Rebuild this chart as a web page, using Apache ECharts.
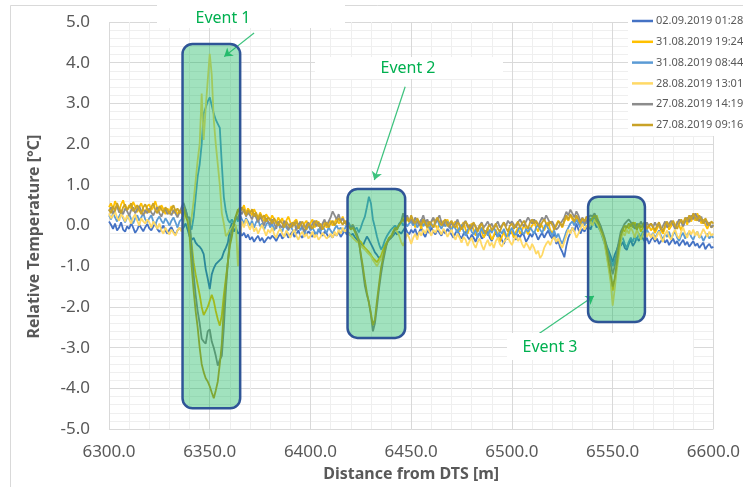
<!DOCTYPE html>
<html><head><meta charset="utf-8">
<script src="https://cdn.jsdelivr.net/npm/echarts@6/dist/echarts.min.js"></script>
<style>html,body{margin:0;padding:0;background:#fff}#c{width:743px;height:487px}</style>
</head><body><div id="c"></div>
<script>
// ---------- data ----------
const seriesNames = ['02.09.2019 01:28','31.08.2019 19:24','31.08.2019 08:44','28.08.2019 13:01','27.08.2019 14:19','27.08.2019 09:16'];
const seriesColors = ['#4472C4','#FFC000','#5B9BD5','#FFD966','#8C8C8C','#C9A227'];
// distance grid: 6300 .. 6600 m, 1 m sampling
const distStart = 6300, distStep = 1, distCount = 301;

const t0209_0128 = [
 0.10,0.02,-0.08,0.05,-0.12,-0.05,0.08,-0.10,-0.15,-0.02,
 -0.08,0.06,-0.05,-0.18,-0.10,0.02,-0.06,-0.14,-0.04,0.04,
 -0.07,-0.12,-0.02,0.05,-0.09,-0.16,-0.08,0.00,-0.12,-0.20,
 -0.10,-0.04,-0.15,-0.22,-0.12,-0.06,-0.10,-0.05,0.05,-0.10,
 -0.27,-0.35,-0.30,-0.42,-0.48,-0.52,-0.59,-0.70,-1.07,-1.30,
 -1.56,-1.20,-1.05,-0.95,-0.90,-0.85,-0.80,-0.65,-0.55,-0.42,
 -0.10,0.07,-0.15,-0.05,-0.20,-0.15,-0.25,-0.18,-0.30,-0.22,
 -0.35,-0.28,-0.40,-0.32,-0.25,-0.38,-0.30,-0.42,-0.35,-0.28,
 -0.33,-0.25,-0.30,-0.38,-0.28,-0.20,-0.32,-0.26,-0.18,-0.30,
 -0.22,-0.15,-0.28,-0.20,-0.12,-0.25,-0.30,-0.18,-0.22,-0.14,
 -0.20,-0.28,-0.16,-0.24,-0.10,-0.18,-0.25,-0.15,-0.20,-0.28,
 -0.22,-0.30,-0.18,-0.25,-0.15,-0.28,-0.20,-0.12,-0.22,-0.18,
 -0.25,-0.20,-0.28,-0.34,-0.40,-0.45,-0.50,-0.38,-0.27,-0.35,
 -0.45,-0.55,-0.66,-0.72,-0.80,-0.76,-0.72,-0.55,-0.42,-0.34,
 -0.30,-0.25,-0.17,-0.22,-0.15,-0.20,-0.12,-0.05,-0.15,-0.22,
 -0.10,-0.18,-0.08,-0.25,-0.15,-0.05,-0.20,-0.28,-0.12,-0.18,
 -0.05,-0.15,-0.22,-0.10,-0.18,-0.25,-0.12,-0.20,-0.08,-0.15,
 -0.22,-0.30,-0.18,-0.10,-0.25,-0.32,-0.20,-0.15,-0.28,-0.35,
 -0.22,-0.30,-0.40,-0.25,-0.18,-0.32,-0.28,-0.20,-0.15,-0.30,
 -0.38,-0.25,-0.18,-0.30,-0.22,-0.35,-0.45,-0.30,-0.25,-0.20,
 -0.15,-0.28,-0.35,-0.22,-0.30,-0.18,-0.25,-0.40,-0.32,-0.20,
 -0.28,-0.15,-0.22,-0.35,-0.25,-0.18,-0.30,-0.20,-0.12,-0.25,
 -0.32,-0.20,-0.45,-0.38,-0.55,-0.65,-0.78,-0.50,-0.30,-0.18,
 -0.05,-0.15,0.05,-0.10,-0.20,-0.08,-0.15,-0.05,0.00,-0.10,
 0.05,0.10,-0.05,0.02,-0.10,-0.25,-0.35,-0.50,-0.62,-0.75,
 -0.90,-0.72,-0.60,-0.45,-0.50,-0.40,-0.55,-0.60,-0.45,-0.35,
 -0.50,-0.42,-0.30,-0.38,-0.25,-0.32,-0.40,-0.30,-0.45,-0.35,
 -0.28,-0.40,-0.32,-0.45,-0.38,-0.30,-0.42,-0.35,-0.48,-0.40,
 -0.32,-0.45,-0.38,-0.50,-0.42,-0.35,-0.48,-0.40,-0.52,-0.45,
 -0.38,-0.50,-0.44,-0.55,-0.48,-0.42,-0.58,-0.50,-0.45,-0.55,
 -0.52];

const t3108_1924 = [
 0.45,0.55,0.40,0.60,0.48,0.35,0.52,0.62,0.45,0.38,
 0.50,0.42,0.58,0.47,0.33,0.45,0.55,0.40,0.30,0.48,
 0.52,0.38,0.45,0.60,0.42,0.35,0.50,0.40,0.28,0.42,
 0.35,0.48,0.30,0.40,0.25,0.38,0.30,0.22,0.35,0.15,
 -0.05,-0.45,-0.90,-1.20,-1.45,-1.70,-2.00,-2.20,-2.10,-2.00,
 -1.85,-1.70,-1.85,-2.10,-2.30,-2.46,-2.20,-1.70,-1.30,-0.90,
 -0.40,-0.10,0.07,0.20,0.35,0.45,0.38,0.50,0.30,0.42,
 0.35,0.25,0.40,0.30,0.18,0.32,0.22,0.10,0.28,0.20,
 0.12,0.25,0.15,0.05,0.20,0.10,0.18,0.02,0.12,0.22,
 0.08,-0.05,0.10,0.15,0.00,0.08,-0.08,0.05,0.12,-0.02,
 0.06,0.15,-0.05,0.02,0.10,-0.10,0.00,0.08,-0.05,0.05,
 0.12,0.00,0.08,0.18,0.05,0.10,0.22,0.08,0.00,0.05,
 -0.05,0.02,-0.10,-0.25,-0.35,-0.40,-0.48,-0.55,-0.60,-0.65,
 -0.72,-0.80,-0.85,-0.90,-0.82,-0.75,-0.60,-0.48,-0.40,-0.30,
 -0.25,-0.18,-0.10,-0.05,0.02,0.10,0.18,0.25,0.15,0.08,
 0.20,0.10,-0.05,0.12,0.05,-0.08,0.15,0.00,0.10,-0.05,
 0.08,0.18,0.02,-0.10,0.05,0.12,-0.02,0.08,0.15,0.00,
 -0.08,0.05,0.10,-0.05,-0.15,0.00,0.08,-0.10,-0.20,-0.05,
 0.05,-0.12,-0.25,-0.10,0.02,-0.15,-0.30,-0.18,-0.05,-0.20,
 -0.35,-0.25,-0.10,-0.22,-0.40,-0.28,-0.15,-0.30,-0.20,-0.08,
 -0.18,-0.30,-0.15,-0.05,-0.20,-0.12,0.02,-0.10,-0.22,-0.08,
 0.00,0.10,-0.05,-0.15,0.05,-0.02,-0.12,0.00,0.08,-0.10,
 -0.20,-0.08,0.02,0.12,0.05,-0.05,0.10,0.20,0.12,0.25,
 0.15,0.05,0.20,0.10,-0.02,0.08,0.15,0.05,0.18,0.10,
 0.20,0.15,0.25,0.10,-0.05,-0.25,-0.40,-0.70,-1.00,-1.30,
 -1.60,-1.40,-1.00,-0.60,-0.25,-0.10,-0.15,0.00,-0.08,0.05,
 -0.05,0.08,-0.10,0.02,-0.15,-0.05,0.05,-0.10,0.00,-0.12,
 -0.05,-0.18,-0.08,0.02,-0.12,-0.20,-0.05,0.05,-0.10,-0.02,
 0.08,-0.05,0.10,0.00,-0.12,0.05,0.15,0.02,0.20,0.10,
 0.25,0.12,0.30,0.18,0.05,0.15,0.02,-0.08,0.05,-0.05,
 0.00];

const t3108_0844 = [
 0.25,0.15,0.30,0.20,0.10,0.22,0.32,0.18,0.08,0.20,
 0.28,0.15,0.05,0.18,0.25,0.12,0.20,0.30,0.15,0.08,
 0.18,0.25,0.10,0.02,0.15,0.22,0.12,0.05,0.18,0.10,
 0.00,0.12,0.20,0.08,-0.05,0.10,0.15,0.30,0.40,0.20,
 0.05,-0.10,0.20,0.70,1.20,1.50,2.00,2.75,2.90,3.05,
 3.15,2.95,2.75,2.60,2.50,2.40,1.50,0.70,0.35,0.15,
 0.07,0.15,0.05,0.20,0.10,0.25,0.15,0.05,0.18,0.10,
 0.00,0.12,-0.05,0.08,0.15,-0.02,0.05,-0.10,0.02,0.10,
 -0.05,0.05,-0.12,0.00,0.08,-0.08,-0.15,0.02,-0.05,-0.12,
 0.00,-0.10,-0.18,-0.05,0.05,-0.12,-0.02,-0.20,-0.08,0.00,
 -0.12,-0.05,-0.15,-0.22,-0.08,-0.15,-0.02,-0.10,-0.18,-0.05,
 -0.12,-0.20,-0.08,0.00,-0.10,-0.05,-0.15,-0.08,0.02,0.07,
 -0.05,0.00,-0.10,-0.05,-0.17,-0.05,0.10,0.22,0.45,0.71,
 0.55,0.15,-0.05,-0.27,-0.45,-0.59,-0.50,-0.35,-0.25,-0.17,
 -0.10,-0.05,0.00,-0.08,0.05,0.10,0.00,0.08,-0.02,0.05,
 0.10,0.00,0.12,-0.05,0.05,0.15,-0.02,0.08,0.00,-0.10,
 0.05,-0.05,0.08,0.15,0.00,-0.08,0.05,-0.02,0.10,-0.05,
 -0.12,0.00,-0.08,-0.18,-0.05,0.02,-0.15,-0.25,-0.10,-0.02,
 -0.15,-0.22,-0.08,-0.30,-0.18,-0.05,-0.20,-0.12,-0.25,-0.10,
 -0.18,-0.05,-0.15,-0.28,-0.12,-0.20,-0.08,-0.22,-0.35,-0.15,
 -0.05,-0.18,-0.25,-0.12,-0.02,-0.15,-0.22,-0.08,-0.15,-0.05,
 -0.12,-0.20,-0.05,0.02,-0.10,-0.18,-0.05,0.05,-0.08,-0.15,
 -0.25,-0.12,-0.30,-0.20,-0.35,-0.45,-0.30,-0.15,-0.05,0.05,
 0.10,0.00,0.15,0.05,-0.05,0.10,0.00,0.12,0.05,0.18,
 0.10,0.20,0.08,-0.05,-0.15,-0.30,-0.45,-0.55,-0.70,-0.85,
 -1.00,-0.85,-0.70,-0.50,-0.35,-0.30,-0.45,-0.55,-0.40,-0.30,
 -0.40,-0.25,-0.35,-0.20,-0.30,-0.15,-0.25,-0.10,-0.20,-0.28,
 -0.18,-0.30,-0.22,-0.12,-0.25,-0.35,-0.20,-0.28,-0.15,-0.32,
 -0.22,-0.15,-0.30,-0.38,-0.25,-0.18,-0.32,-0.22,-0.15,-0.28,
 -0.35,-0.22,-0.15,-0.30,-0.25,-0.38,-0.28,-0.20,-0.32,-0.25,
 -0.30];

const t2808_1301 = [
 0.30,0.18,0.25,0.35,0.20,0.12,0.28,0.22,0.10,0.25,
 0.15,0.05,0.20,0.28,0.12,0.00,0.18,0.10,0.05,0.15,
 0.08,-0.05,0.10,0.02,-0.08,0.05,-0.12,-0.20,-0.05,-0.15,
 -0.22,-0.10,-0.18,-0.25,-0.12,-0.05,-0.15,0.10,0.30,0.15,
 -0.10,0.20,0.60,1.10,1.60,2.00,3.24,2.10,2.90,3.56,
 4.22,3.70,2.60,2.00,1.50,1.00,0.30,0.05,-0.26,-0.20,
 -0.10,-0.05,0.05,0.00,-1.00,-0.30,0.10,-0.05,0.15,0.02,
 -0.10,0.05,-0.15,-0.05,-0.20,-0.08,0.02,-0.12,-0.25,-0.10,
 -0.18,-0.05,-0.22,-0.30,-0.15,-0.08,-0.20,-0.28,-0.12,-0.20,
 -0.30,-0.18,-0.10,-0.25,-0.35,-0.22,-0.15,-0.28,-0.20,-0.32,
 -0.25,-0.15,-0.30,-0.22,-0.35,-0.28,-0.18,-0.25,-0.32,-0.27,
 -0.20,-0.30,-0.15,-0.25,-0.10,-0.20,-0.05,-0.15,-0.10,-0.20,
 -0.25,-0.30,-0.35,-0.40,-0.42,-0.50,-0.55,-0.59,-0.65,-0.70,
 -0.75,-0.85,-0.92,-1.00,-0.90,-0.83,-0.70,-0.60,-0.42,-0.35,
 -0.28,-0.20,-0.10,-0.15,-0.25,-0.40,-0.50,-0.35,-0.20,-0.30,
 -0.45,-0.30,-0.20,-0.35,-0.15,-0.25,-0.10,-0.20,-0.05,-0.15,
 -0.25,-0.10,-0.18,-0.05,-0.12,-0.22,-0.08,-0.15,-0.28,-0.18,
 -0.10,-0.25,-0.35,-0.20,-0.30,-0.42,-0.28,-0.35,-0.50,-0.38,
 -0.30,-0.45,-0.55,-0.40,-0.32,-0.48,-0.60,-0.45,-0.35,-0.50,
 -0.42,-0.55,-0.38,-0.30,-0.45,-0.52,-0.40,-0.35,-0.28,-0.40,
 -0.48,-0.35,-0.25,-0.38,-0.30,-0.45,-0.55,-0.42,-0.50,-0.60,
 -0.45,-0.55,-0.70,-0.62,-0.80,-0.72,-0.55,-0.45,-0.38,-0.48,
 -0.35,-0.28,-0.40,-0.32,-0.45,-0.55,-0.40,-0.25,-0.10,-0.20,
 -0.05,-0.15,-0.30,-0.20,-0.08,0.05,-0.10,0.00,-0.05,0.10,
 0.00,0.15,0.05,-0.02,-0.15,-0.27,-0.45,-0.75,-1.05,-1.40,
 -1.97,-1.56,-1.10,-0.75,-0.40,-0.17,-0.25,-0.10,-0.20,-0.05,
 -0.15,-0.30,-0.10,-0.22,-0.35,-0.20,-0.12,-0.28,-0.18,-0.30,
 -0.20,-0.35,-0.25,-0.15,-0.30,-0.40,-0.22,-0.12,-0.28,-0.35,
 -0.18,-0.10,-0.25,-0.32,-0.15,-0.05,-0.20,-0.30,-0.12,-0.22,
 -0.10,-0.25,-0.15,-0.30,-0.20,-0.08,-0.18,-0.28,-0.15,-0.25,
 -0.20];

const t2708_1419 = [
 0.35,0.45,0.30,0.40,0.50,0.32,0.38,0.28,0.42,0.35,
 0.25,0.38,0.45,0.30,0.40,0.48,0.35,0.25,0.38,0.30,
 0.42,0.32,0.25,0.36,0.45,0.30,0.22,0.35,0.40,0.28,
 0.35,0.25,0.38,0.30,0.20,0.32,0.45,0.56,0.40,0.20,
 0.20,-0.60,-1.20,-1.70,-2.10,-2.40,-2.78,-2.85,-2.90,-2.60,
 -2.55,-2.85,-3.00,-3.20,-3.44,-3.30,-3.20,-2.50,-1.60,-0.90,
 -0.35,-0.10,0.00,0.25,0.15,0.35,0.28,0.40,0.22,0.32,
 0.25,0.15,0.30,0.20,0.08,0.22,0.12,0.00,0.18,0.10,
 0.02,0.15,0.05,-0.08,0.10,0.00,-0.05,0.12,0.02,-0.10,
 0.05,-0.02,0.08,-0.12,0.00,0.10,-0.05,-0.15,0.02,0.08,
 -0.08,0.05,0.12,-0.02,0.08,-0.10,0.05,0.15,0.00,0.10,
 0.20,0.35,0.25,0.15,0.28,0.10,0.18,0.05,0.12,0.00,
 -0.05,0.02,-0.10,-0.20,-0.35,-0.75,-1.10,-1.48,-1.70,-1.88,
 -2.20,-2.60,-2.40,-2.00,-1.56,-1.20,-0.90,-0.65,-0.42,-0.35,
 -0.30,-0.20,-0.10,-0.05,0.00,0.10,0.30,0.15,0.25,0.10,
 0.15,0.05,0.20,0.10,0.00,0.12,0.25,0.08,0.15,0.02,
 0.10,0.20,0.05,0.15,0.25,0.08,0.00,0.12,0.05,-0.05,
 0.08,-0.02,0.05,0.15,0.00,-0.10,0.05,0.12,-0.05,0.02,
 -0.08,0.05,-0.02,-0.12,0.00,0.08,-0.05,0.02,0.10,-0.02,
 0.05,-0.08,0.02,0.10,-0.05,0.00,0.08,-0.02,0.12,0.05,
 0.10,0.02,-0.05,0.08,0.15,0.05,-0.02,0.10,0.20,0.12,
 0.05,0.15,0.08,0.00,0.10,0.20,0.12,0.25,0.15,0.05,
 0.10,0.00,-0.10,-0.05,0.05,0.12,0.20,0.34,0.25,0.39,
 0.30,0.20,0.35,0.25,0.10,0.20,0.05,0.12,0.20,0.25,
 0.22,0.30,0.18,0.10,0.00,-0.15,-0.30,-0.50,-0.75,-0.95,
 -1.20,-1.00,-0.70,-0.40,-0.15,-0.05,0.05,0.10,0.15,0.08,
 0.00,-0.08,0.05,-0.02,0.10,0.00,-0.05,0.08,-0.02,0.05,
 -0.05,0.08,-0.02,0.05,-0.10,0.00,0.10,-0.05,0.05,0.12,
 0.02,-0.08,0.05,0.15,0.08,-0.02,0.10,0.20,0.08,0.25,
 0.15,0.30,0.20,0.10,0.22,0.05,0.15,0.00,0.08,-0.05,
 0.02];

const t2708_0916 = [
 0.40,0.30,0.48,0.35,0.55,0.42,0.30,0.45,0.52,0.38,
 0.45,0.55,0.35,0.42,0.50,0.38,0.28,0.45,0.52,0.40,
 0.32,0.45,0.55,0.38,0.30,0.48,0.40,0.32,0.45,0.38,
 0.28,0.40,0.50,0.35,0.42,0.30,0.38,0.45,0.25,0.10,
 -0.27,-1.00,-1.60,-2.10,-2.50,-3.00,-3.40,-3.60,-3.75,-3.83,
 -3.95,-4.10,-4.24,-4.05,-3.83,-3.40,-2.90,-2.00,-1.40,-0.90,
 -0.50,-0.27,0.05,0.24,0.40,0.30,0.45,0.35,0.25,0.38,
 0.30,0.40,0.22,0.32,0.15,0.28,0.18,0.25,0.10,0.20,
 0.15,0.05,0.18,0.08,0.00,0.12,0.05,-0.05,0.10,0.02,
 -0.05,0.08,0.00,0.12,-0.08,0.02,0.10,-0.02,-0.10,0.05,
 0.00,-0.08,0.06,0.12,-0.02,0.05,-0.10,0.00,0.08,-0.05,
 0.05,0.12,0.00,0.08,0.18,0.10,0.02,0.12,0.05,-0.02,
 -0.10,-0.05,-0.15,-0.27,-0.40,-0.70,-1.00,-1.35,-1.65,-1.90,
 -2.15,-2.45,-2.30,-1.85,-1.45,-1.05,-0.80,-0.55,-0.42,-0.30,
 -0.28,-0.15,-0.05,-0.10,0.02,0.08,0.15,0.05,0.20,0.10,
 0.25,0.12,0.05,0.18,0.08,0.00,0.15,0.05,-0.05,0.10,
 0.02,-0.05,0.12,0.20,0.08,0.00,0.10,0.15,-0.02,0.05,
 0.12,0.00,-0.05,0.08,0.02,-0.10,0.00,0.10,0.02,-0.08,
 0.00,0.08,-0.05,-0.15,-0.02,0.05,-0.10,-0.20,-0.05,0.02,
 -0.12,-0.05,0.05,-0.08,-0.15,-0.02,0.08,-0.05,-0.15,0.00,
 0.05,-0.08,0.02,0.10,-0.05,0.05,0.12,0.00,-0.08,0.08,
 0.15,0.05,0.12,0.02,-0.05,0.08,0.15,0.05,0.00,0.10,
 0.02,-0.10,0.00,0.10,0.05,-0.02,0.12,0.25,0.15,0.28,
 0.20,0.10,0.25,0.15,0.05,0.18,0.10,0.22,0.15,0.12,
 0.18,0.25,0.12,0.05,-0.08,-0.20,-0.35,-0.60,-0.90,-1.20,
 -1.50,-1.30,-0.95,-0.55,-0.25,-0.10,0.00,-0.05,0.05,-0.02,
 0.08,0.00,-0.10,0.05,-0.05,0.02,0.10,-0.08,0.00,0.05,
 -0.02,-0.12,0.00,0.08,-0.05,-0.15,0.02,0.10,-0.02,0.05,
 0.12,0.00,-0.08,0.05,0.15,0.05,0.20,0.10,0.25,0.15,
 0.30,0.20,0.12,0.25,0.15,0.05,0.18,0.08,0.00,0.10,
 0.05];

const seriesValues = [t0209_0128, t3108_1924, t3108_0844, t2808_1301, t2708_1419, t2708_0916];

// event annotations (data units)
const eventNames = ['Event 1','Event 2','Event 3'];
const eventX0 = [6336.5, 6418.4, 6537.8];
const eventX1 = [6365.1, 6447.0, 6566.0];
const eventYTop = [4.46, 0.90, 0.71];
const eventYBottom = [-4.49, -2.76, -2.37];
const arrowFrom = [[6372.0, 4.73], [6447.0, 3.41], [6512.6, -2.68]];
const arrowTo   = [[6357.2, 4.15], [6431.7, 1.12], [6540.7, -1.73]];

// ---------- chart ----------
const FONT = "'Noto Sans', 'Open Sans', sans-serif";
const chart = echarts.init(document.getElementById('c'), null, {renderer: 'canvas'});

function pairs(vals) {
  return vals.map((v, i) => [distStart + i * distStep, v]);
}

const series = seriesNames.map((name, k) => ({
  name, type: 'line', data: pairs(seriesValues[k]),
  symbol: 'none', showSymbol: false, smooth: false,
  lineStyle: {width: 1.8, color: seriesColors[k]},
  itemStyle: {color: seriesColors[k]},
  emphasis: {disabled: true}, silent: true,
  z: 2 + k * 0.01
}));

series[0].markLine = {
  silent: true, symbol: ['none', 'arrow'], symbolSize: 8,
  label: {show: false},
  lineStyle: {color: '#3CC27D', width: 1.2, type: 'solid'},
  emphasis: {disabled: true},
  data: arrowFrom.map((a, i) => [{coord: a}, {coord: arrowTo[i]}])
};

const option = {
  animation: false,
  backgroundColor: '#fff',
  grid: {left: 109, right: 26, top: 22, bottom: 56, containLabel: false},
  legend: {
    data: seriesNames, orient: 'vertical', left: 628, top: 10,
    padding: [4, 6, 4, 4], backgroundColor: '#fff',
    icon: 'rect', itemWidth: 21, itemHeight: 2.5, itemGap: 6.8,
    textStyle: {fontSize: 11, color: '#595959', fontFamily: FONT, lineHeight: 14, padding: [0, 0, 0, -2]},
    selectedMode: false
  },
  xAxis: {
    type: 'value', min: 6300, max: 6600, interval: 50,
    name: 'Distance from DTS [m]', nameLocation: 'middle', nameGap: 30,
    nameTextStyle: {fontSize: 16, fontWeight: 'bold', color: '#595959', fontFamily: FONT},
    axisLine: {show: false}, axisTick: {show: false},
    axisLabel: {fontSize: 17, color: '#595959', fontFamily: FONT, margin: 15,
      formatter: v => v.toFixed(1)},
    splitLine: {show: true, lineStyle: {color: '#d9d9d9', width: 1}},
    minorTick: {show: false, splitNumber: 5},
    minorSplitLine: {show: true, lineStyle: {color: '#efefef', width: 1}}
  },
  yAxis: {
    type: 'value', min: -5, max: 5, interval: 1,
    name: 'Relative Temperature [°C]', nameLocation: 'middle', nameGap: 67, nameRotate: 90,
    nameTextStyle: {fontSize: 16, fontWeight: 'bold', color: '#595959', fontFamily: FONT, padding: [0, 22, 0, 0]},
    axisLine: {show: false}, axisTick: {show: false},
    axisLabel: {fontSize: 17, color: '#595959', fontFamily: FONT, margin: 19,
      formatter: v => v.toFixed(1)},
    splitLine: {show: true, lineStyle: {color: '#d9d9d9', width: 1}},
    minorTick: {show: false, splitNumber: 5},
    minorSplitLine: {show: true, lineStyle: {color: '#efefef', width: 1}}
  },
  series
};
chart.setOption(option);

// annotation overlays
const g = [];
// outer chart border
g.push({type: 'rect', z: 0, silent: true, shape: {x: 10.5, y: 5.5, width: 900, height: 900},
  style: {fill: 'none', stroke: '#d9d9d9', lineWidth: 1}});
for (let i = 0; i < eventNames.length; i++) {
  const p0 = chart.convertToPixel({gridIndex: 0}, [eventX0[i], eventYTop[i]]);
  const p1 = chart.convertToPixel({gridIndex: 0}, [eventX1[i], eventYBottom[i]]);
  g.push({type: 'rect', z: 50, silent: true,
    shape: {x: p0[0], y: p0[1], width: p1[0] - p0[0], height: p1[1] - p0[1], r: 10},
    style: {fill: 'rgba(0,176,80,0.37)', stroke: '#2F5597', lineWidth: 2.5}});
}
// label text boxes (white background) – annotation layout
const labelBoxes = [[157, 0, 188, 28], [315, 57, 188, 22], [507, 333, 186, 27]];
const labelCenters = [[223, 18], [408, 68], [550, 347]];
for (let i = 0; i < eventNames.length; i++) {
  const b = labelBoxes[i];
  g.push({type: 'rect', z: 60, silent: true, shape: {x: b[0], y: b[1], width: b[2], height: b[3]},
    style: {fill: '#fff'}});
  g.push({type: 'text', z: 61, silent: true, x: labelCenters[i][0], y: labelCenters[i][1],
    style: {text: eventNames[i], fill: '#00B050', font: '16px ' + FONT, align: 'center', verticalAlign: 'middle'}});
}
chart.setOption({graphic: g});
</script></body></html>
